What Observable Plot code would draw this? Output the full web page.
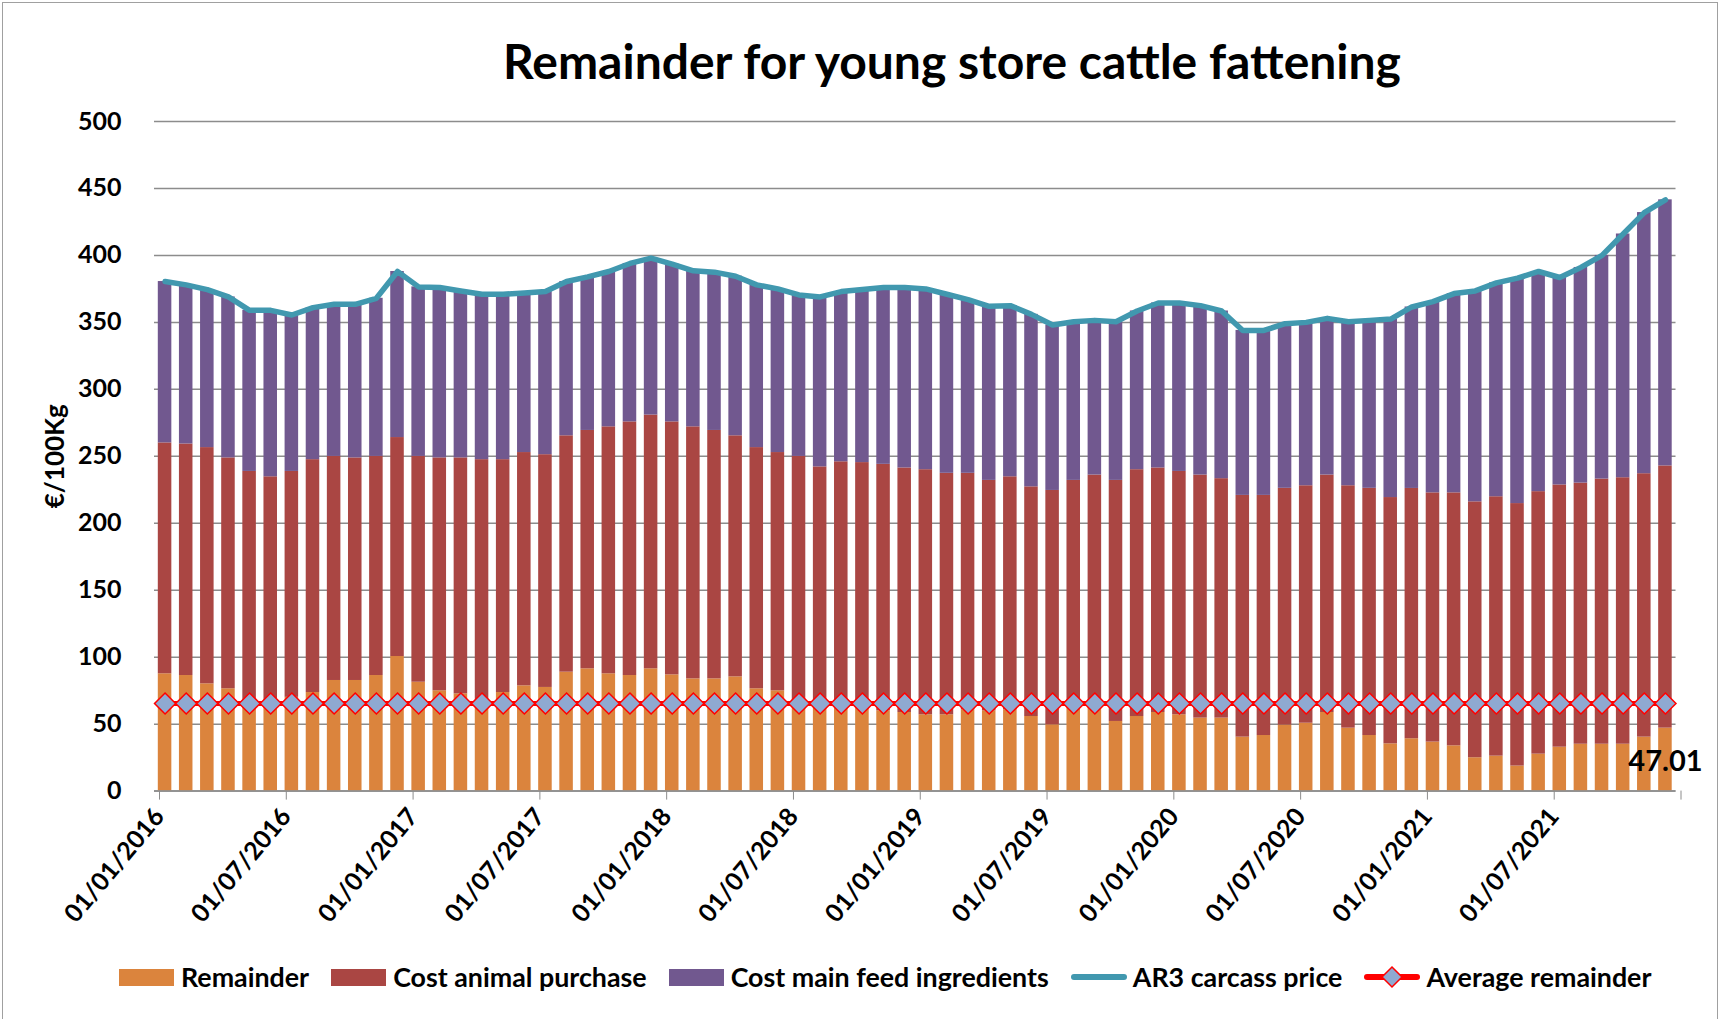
<!DOCTYPE html>
<html>
<head>
<meta charset="utf-8">
<script src="https://cdn.jsdelivr.net/npm/d3@7"></script>
<script src="https://cdn.jsdelivr.net/npm/@observablehq/plot@0.6"></script>
<style>
  html, body { margin: 0; padding: 0; background: #fff; }
  #frame { position: relative; width: 1721px; height: 1019px; overflow: hidden; font-family: Lato, sans-serif; color: #000; }
  #border { position: absolute; left: 2px; top: 2px; width: 1714px; height: 1040px; border: 1px solid #a0a0a0; pointer-events: none; }
  #title { height: 100px; box-sizing: border-box; padding-left: 183px; padding-top: 34px; text-align: center; font-weight: 700; font-size: 48px; line-height: 54px; white-space: nowrap; }
  #chart svg { display: block; }
  #legend { display: flex; align-items: center; padding-left: 119px; padding-top: 22px; height: 30px; font-weight: 700; font-size: 26.8px; line-height: 30px; white-space: nowrap; }
  .item { display: flex; align-items: center; margin-right: 22px; }
  .item svg { margin-right: 6px; display: block; }
</style>
</head>
<body>
<div id="frame">
  <div id="title">Remainder for young store cattle fattening</div>
  <div id="chart"></div>
  <div id="legend"></div>
  <div id="border"></div>
</div>
<script>
// ---- Data (monthly, Jan 2016 .. Dec 2021), €/100Kg ----
const seriesNames = ["Remainder", "Cost animal purchase", "Cost main feed ingredients"];
const seriesColors = ["#DB843D", "#AA4643", "#71588F"];
const priceName = "AR3 carcass price";
const averageName = "Average remainder";

const remainder = [
  87.6, 86.3, 80.1, 76.4, 66.0, 66.0, 70.0, 73.6, 82.6, 82.6, 86.3, 100.5,
  81.3, 74.9, 72.6, 67.0, 73.6, 78.6, 77.4, 88.8, 91.3, 87.6, 86.3, 91.3,
  86.8, 83.8, 83.8, 85.3, 76.4, 74.9, 66.0, 64.0, 64.0, 63.0, 60.0, 58.7,
  57.0, 57.0, 60.7, 60.0, 60.7, 55.7, 49.5, 62.0, 62.0, 52.0, 55.7, 58.7,
  57.0, 54.5, 54.5, 40.3, 41.5, 49.3, 50.7, 58.7, 47.0, 41.5, 35.3, 39.1,
  36.6, 33.8, 24.9, 26.1, 18.7, 27.6, 32.8, 35.0, 35.0, 35.0, 40.3, 47.01
];
const animalCost = [
  172.4, 172.9, 176.4, 172.4, 172.7, 168.7, 168.7, 173.9, 167.3, 166.2, 163.6, 163.5,
  168.6, 173.9, 176.2, 180.5, 173.9, 174.2, 173.8, 176.5, 178.0, 184.4, 189.4, 189.5,
  188.9, 188.2, 185.5, 180.0, 180.1, 177.9, 183.9, 178.1, 181.9, 182.3, 184.0, 182.6,
  183.0, 180.3, 176.6, 172.0, 174.0, 171.5, 175.0, 170.0, 174.0, 180.0, 184.3, 182.6,
  181.7, 181.5, 178.8, 180.5, 179.3, 176.8, 177.3, 177.3, 181.0, 184.6, 183.9, 186.9,
  186.1, 188.9, 191.1, 193.7, 196.0, 196.0, 195.8, 195.0, 198.0, 199.0, 196.7, 195.8
];
const feedCost = [
  120.5, 118.8, 118.0, 120.2, 120.3, 124.3, 116.8, 113.5, 113.6, 114.7, 118.1, 124.0,
  126.6, 127.2, 124.7, 123.5, 123.5, 119.2, 121.8, 115.2, 114.7, 116.0, 118.3, 117.2,
  117.8, 116.5, 118.2, 119.2, 121.5, 122.2, 120.6, 126.9, 127.1, 129.2, 132.0, 134.7,
  135.0, 133.7, 129.7, 130.0, 127.8, 128.8, 123.5, 118.5, 115.5, 118.5, 118.5, 123.2,
  125.8, 126.5, 125.2, 123.2, 123.2, 122.9, 122.0, 117.0, 122.5, 125.4, 133.3, 135.5,
  142.8, 148.8, 157.5, 159.7, 168.3, 164.4, 154.9, 161.0, 167.0, 182.0, 195.0, 198.7
];
const price = [
  380.5, 378.0, 374.5, 369.0, 359.0, 359.0, 355.5, 361.0, 363.5, 363.5, 368.0, 388.0,
  376.5, 376.0, 373.5, 371.0, 371.0, 372.0, 373.0, 380.5, 384.0, 388.0, 394.0, 398.0,
  393.5, 388.5, 387.5, 384.5, 378.0, 375.0, 370.5, 369.0, 373.0, 374.5, 376.0, 376.0,
  375.0, 371.0, 367.0, 362.0, 362.5, 356.0, 348.0, 350.5, 351.5, 350.5, 358.5, 364.5,
  364.5, 362.5, 358.5, 344.0, 344.0, 349.0, 350.0, 353.0, 350.5, 351.5, 352.5, 361.5,
  365.5, 371.5, 373.5, 379.5, 383.0, 388.0, 383.5, 391.0, 400.0, 416.0, 432.0, 441.5
];
const averageRemainder = 65.4;
const lastLabel = "47.01";

const xTickLabels = ["01/01/2016", "01/07/2016", "01/01/2017", "01/07/2017", "01/01/2018", "01/07/2018",
  "01/01/2019", "01/07/2019", "01/01/2020", "01/07/2020", "01/01/2021", "01/07/2021", ""];
const yTicks = [0, 50, 100, 150, 200, 250, 300, 350, 400, 450, 500];

// ---- Build tables ----
const months = remainder.map((_, i) => ({
  i, remainder: remainder[i], animal: animalCost[i], feed: feedCost[i], price: price[i], avg: averageRemainder
}));
const rows = [];
months.forEach(m => {
  rows.push({i: m.i, series: seriesNames[0], value: m.remainder});
  rows.push({i: m.i, series: seriesNames[1], value: m.animal});
  rows.push({i: m.i, series: seriesNames[2], value: m.feed});
});
const xTickIdx = xTickLabels.map((_, k) => k * 6);
const grid = "#8c8c8c";

const chart = Plot.plot({
  width: 1721,
  height: 840,
  marginTop: 21,
  marginBottom: 149.4,
  marginLeft: 154,
  marginRight: 45.5,
  x: {type: "linear", domain: [0, months.length]},
  y: {domain: [0, 500]},
  color: {domain: seriesNames, range: seriesColors},
  style: {fontFamily: "Lato, sans-serif", fontSize: "25px", fontWeight: "700", color: "#000", background: "#fff", overflow: "visible"},
  marks: [
    Plot.ruleY(yTicks, {stroke: grid, strokeWidth: 1.5}),
    Plot.rectY(rows, {x1: "i", x2: d => d.i + 1, y: "value", fill: "series", insetLeft: 3.8, insetRight: 3.8}),
    Plot.line(months, {x: d => d.i + 0.5, y: "price", stroke: "#4198AF", strokeWidth: 5.5, strokeLinejoin: "round", strokeLinecap: "round"}),
    Plot.line(months, {x: d => d.i + 0.5, y: "avg", stroke: "#FF0000", strokeWidth: 5}),
    Plot.dot(months, {x: d => d.i + 0.5, y: "avg", symbol: "diamond2", r: 9.5, fill: "#8FA9D1", stroke: "#FF0000", strokeWidth: 1.5}),
    Plot.ruleY([0], {stroke: grid, strokeWidth: 1.5}),
    Plot.axisY({ticks: yTicks, tickSize: 0, tickPadding: 33, label: null, fontSize: 25}),
    Plot.axisX({ticks: xTickIdx, tickFormat: t => xTickLabels[t / 6], tickRotate: -50, tickSize: 9, tickPadding: 12, dx: 5, label: null, stroke: grid, fontSize: 25}),
    Plot.text(["€/100Kg"], {frameAnchor: "left", textAnchor: "middle", rotate: -90, dx: -99, fontSize: 26}),
    Plot.text([months[months.length - 1]], {x: d => d.i + 0.5, y: "remainder", text: () => lastLabel, dy: 34, fontSize: 29})
  ]
});
document.getElementById("chart").appendChild(chart);

// ---- Legend ----
const legend = document.getElementById("legend");
function addItem(svgInner, label) {
  const div = document.createElement("div");
  div.className = "item";
  div.innerHTML = `<svg width="56" height="24" viewBox="0 0 56 24">${svgInner}</svg><span>${label}</span>`;
  legend.appendChild(div);
}
seriesNames.forEach((n, k) => addItem(`<rect x="0" y="4" width="55" height="17" fill="${seriesColors[k]}"/>`, n));
addItem(`<line x1="3" y1="12" x2="53" y2="12" stroke="#4198AF" stroke-width="6" stroke-linecap="round"/>`, priceName);
addItem(`<line x1="3" y1="12" x2="53" y2="12" stroke="#FF0000" stroke-width="6" stroke-linecap="round"/><path d="M28 2 L38 12 L28 22 L18 12 Z" fill="#8FA9D1" stroke="#FF0000" stroke-width="1.5"/>`, averageName);
</script>
</body>
</html>
